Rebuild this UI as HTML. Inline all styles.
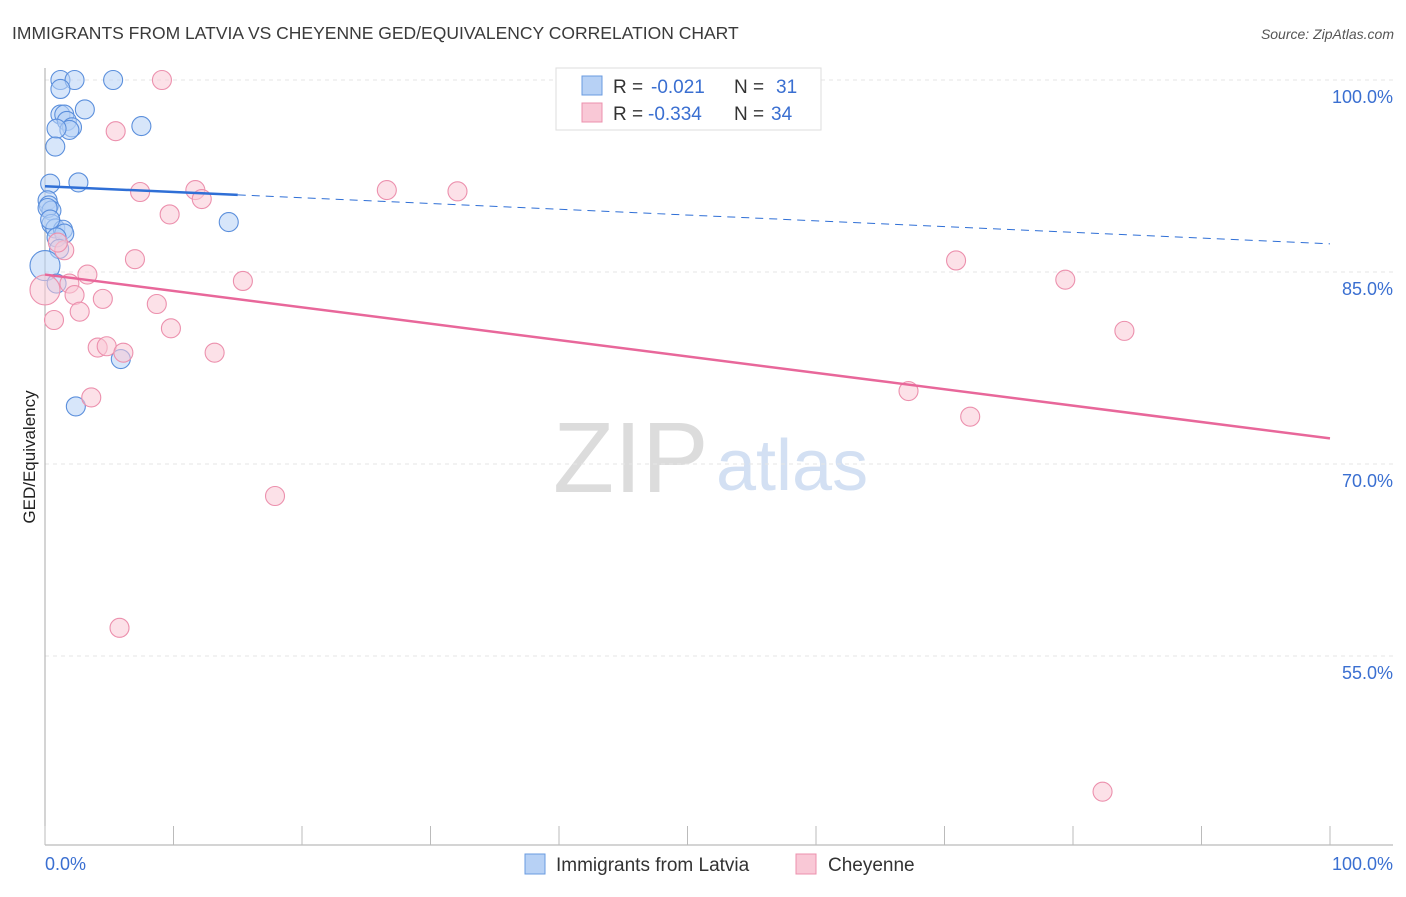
<!DOCTYPE html>
<html><head><meta charset="utf-8"><style>
body{margin:0;background:#fff;font-family:"Liberation Sans",sans-serif}
svg text{font-family:"Liberation Sans",sans-serif}
</style></head><body>
<svg id="c" width="1406" height="892">
<text x="12" y="39" font-size="17.5" fill="#3a3a3a">IMMIGRANTS FROM LATVIA VS CHEYENNE GED/EQUIVALENCY CORRELATION CHART</text>
<text x="1394" y="39" font-size="14" fill="#555" text-anchor="end" font-style="italic">Source: ZipAtlas.com</text>
<text x="35" y="457" font-size="17" fill="#222" text-anchor="middle" transform="rotate(-90 35 457)">GED/Equivalency</text>
<text x="553" y="492" font-size="100" fill="#dcdcdc" font-family="Liberation Serif">ZIP</text>
<text x="716" y="490" font-size="72" fill="#d3e0f3">atlas</text>
<g id="grid"></g><g id="pts"></g><g id="lines"></g>
<g>
<rect x="556" y="68" width="265" height="62" fill="#fff" stroke="#ddd"/>
<rect x="582" y="76" width="20" height="19" fill="#b7d1f5" stroke="#6a9be0"/>
<text x="613" y="93" font-size="19" fill="#333">R =</text>
<text x="651" y="93" font-size="19" fill="#3a6fd1">-0.021</text>
<text x="734" y="93" font-size="19" fill="#333">N =</text>
<text x="776" y="93" font-size="19" fill="#3a6fd1">31</text>
<rect x="582" y="103" width="20" height="19" fill="#f9c8d6" stroke="#ec90ad"/>
<text x="613" y="120" font-size="19" fill="#333">R =</text>
<text x="648" y="120" font-size="19" fill="#3a6fd1">-0.334</text>
<text x="734" y="120" font-size="19" fill="#333">N =</text>
<text x="771" y="120" font-size="19" fill="#3a6fd1">34</text>
</g>
<g>
<rect x="525" y="854" width="20" height="20" fill="#b7d1f5" stroke="#6a9be0"/>
<text x="556" y="871" font-size="19" fill="#333">Immigrants from Latvia</text>
<rect x="796" y="854" width="20" height="20" fill="#f9c8d6" stroke="#ec90ad"/>
<text x="828" y="871" font-size="19" fill="#333">Cheyenne</text>
</g>
</svg>
<script>
const blueX=[1.2,2.3,5.3,1.2,3.1,1.2,1.5,1.7,2.1,1.9,0.9,7.5,0.8,0.4,2.6,0.2,0.3,0.5,0.2,0.5,0.8,1.4,1.5,0.9,1.1,0,0.9,5.9,2.4,14.3,0.4];
const blueY=[100,100,100,99.3,97.7,97.3,97.3,96.8,96.3,96.1,96.2,96.4,94.8,91.9,92.0,90.6,90.2,89.8,90.0,88.75,88.4,88.3,88.0,87.7,86.8,85.5,84.1,78.2,74.5,88.9,89.1];
const pinkX=[9.1,5.5,7.4,11.7,12.2,9.7,26.6,32.1,1.5,1.0,7.0,3.3,15.4,70.9,79.4,1.9,2.3,4.5,8.7,0,2.7,0.7,9.8,84.0,4.1,4.8,6.1,13.2,67.2,72.0,3.6,17.9,5.8,82.3];
const pinkY=[100,96.0,91.25,91.4,90.7,89.5,91.4,91.3,86.7,87.3,86.0,84.8,84.3,85.9,84.4,84.1,83.2,82.9,82.5,83.6,81.9,81.25,80.6,80.4,79.1,79.2,78.7,78.7,75.7,73.7,75.2,67.5,57.2,44.4];
const yTicks=[100,85,70,55];
const yTickLabels=["100.0%","85.0%","70.0%","55.0%"];
const blueTrend=[91.7,87.2];
const pinkTrend=[84.8,72.0];
const NS="http://www.w3.org/2000/svg";
const X=v=>45+v*12.85, Y=v=>80+(100-v)*12.8;
function mk(t,a,p){const e=document.createElementNS(NS,t);for(const k in a)e.setAttribute(k,a[k]);p.appendChild(e);return e;}
const g=document.getElementById('grid');
yTicks.forEach((t,i)=>{
 const l=mk('line',{x1:45,x2:1393,y1:Y(t),y2:Y(t),stroke:'#e6e6e6','stroke-dasharray':'4,4'},g);
 
 
 const tx=mk('text',{x:1393,y:Y(t)+23,'font-size':18,fill:'#3a6fd1','text-anchor':'end'},g);
 tx.textContent=yTickLabels[i];
 
 
});
const ax=mk('line',{x1:45,x2:45,y1:68,y2:845,stroke:'#aaa'},g);


const bx=mk('line',{x1:45,x2:1393,y1:845,y2:845,stroke:'#aaa'},g);


for(let i=0;i<=10;i++){const t=mk('line',{x1:X(i*10),x2:X(i*10),y1:826,y2:845,stroke:'#bbb'},g);
 
 }
[["0.0%",45,'start'],["100.0%",1393,'end']].forEach(a=>{const t=mk('text',{x:a[1],y:870,'font-size':18,fill:'#3a6fd1','text-anchor':a[2]},g);t.textContent=a[0];
 
 });
const p=document.getElementById('pts');
function pts(xs,ys,fill,stroke,name){xs.forEach((x,i)=>{const big=(x===0);
 const c=mk('circle',{cx:X(x),cy:Y(ys[i]),r:big?15:9.5,fill:fill,'fill-opacity':0.55,stroke:stroke,'stroke-width':1.1},p);
 
 });}
pts(blueX,blueY,'#b7d1f5','#5b8fdc','latvia-point');
pts(pinkX,pinkY,'#f9c8d6','#ec90ad','cheyenne-point');
const L=document.getElementById('lines');
const bs=blueTrend[0]+(blueTrend[1]-blueTrend[0])*0.15;
const b1=mk('line',{x1:X(0),y1:Y(blueTrend[0]),x2:X(15),y2:Y(bs),stroke:'#2f6fd6','stroke-width':2.5},L);


const b2=mk('line',{x1:X(15),y1:Y(bs),x2:X(100),y2:Y(blueTrend[1]),stroke:'#2f6fd6','stroke-width':1,'stroke-dasharray':'8,6'},L);


const pl=mk('line',{x1:X(0),y1:Y(pinkTrend[0]),x2:X(100),y2:Y(pinkTrend[1]),stroke:'#e8679a','stroke-width':2.5},L);


</script>
</body></html>
